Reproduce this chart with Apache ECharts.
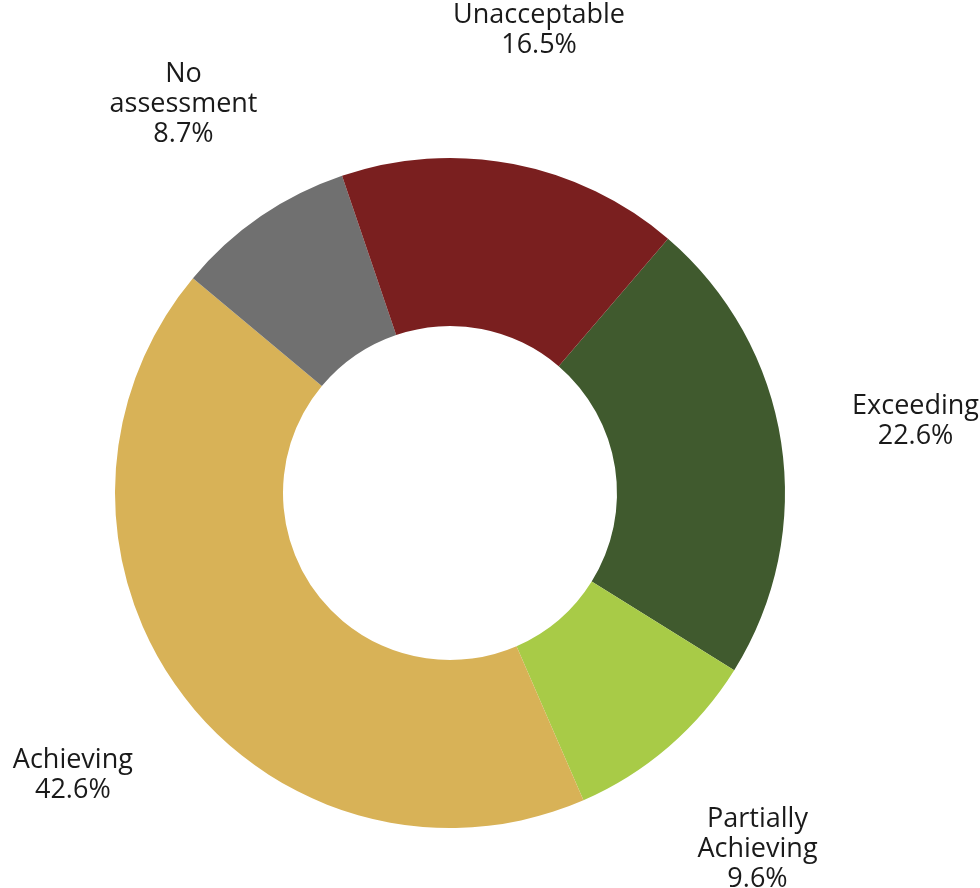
<!DOCTYPE html>
<html>
<head>
<meta charset="utf-8">
<script src="https://cdn.jsdelivr.net/npm/echarts@6/dist/echarts.min.js"></script>
<style>
    html, body { margin: 0; padding: 0; background: #fff; }
    #chart { width: 980px; height: 888px; }
</style>
</head>
<body>
<div id="chart"></div>
<script>
// 评估类别（顺时针，从右上开始）
var categories = ['Exceeding', 'Partially\nAchieving', 'Achieving', 'No\nassessment', 'Unacceptable'];
var shares = [22.6, 9.6, 42.6, 8.7, 16.5];
var colors = ['#405a2e', '#a8cb47', '#d8b257', '#707070', '#7a1f1f'];

var myChart = echarts.init(document.getElementById('chart'));

var pieData = categories.map(function (name, i) {
    return { name: name, value: shares[i], itemStyle: { color: colors[i] } };
});
// 标签用一个透明的外圈来摆放，文字居中
var labelData = categories.map(function (name, i) {
    return { name: name, value: shares[i] };
});

var options = {
    animation: false,
    series: [
        {
            type: 'pie',
            center: [450, 493],
            radius: [167, 335],
            startAngle: 49.4,
            silent: true,
            label: { show: false },
            labelLine: { show: false },
            data: pieData
        },
        {
            type: 'pie',
            center: [450, 493],
            radius: [458, 478],
            startAngle: 49.4,
            silent: true,
            itemStyle: { color: 'rgba(0,0,0,0)' },
            labelLine: { show: false },
            label: {
                show: true,
                position: 'inside',
                color: '#1a1a1a',
                fontFamily: 'Open Sans',
                fontSize: 27,
                lineHeight: 30,
                align: 'center',
                formatter: function (p) {
                    return p.name + '\n' + p.value.toFixed(1) + '%';
                }
            },
            data: labelData
        }
    ]
};
myChart.setOption(options);
</script>
</body>
</html>
